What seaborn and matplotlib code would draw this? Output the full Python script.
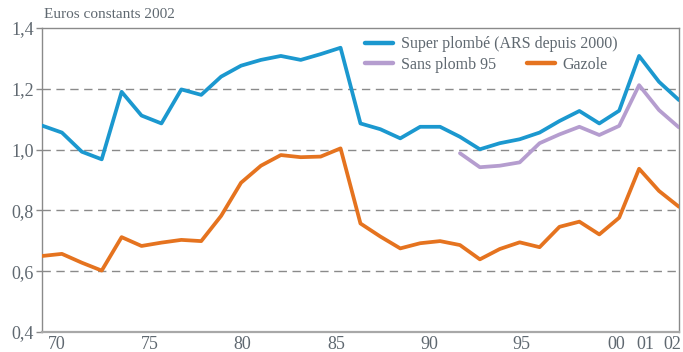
import numpy as np
import pandas as pd
import matplotlib
matplotlib.use("Agg")
import matplotlib.pyplot as plt
import seaborn as sns
from matplotlib.lines import Line2D
from matplotlib.legend import Legend

# Prix des carburants, euros constants 2002 (par litre)
years = list(range(1970, 2003))

super_plombe = [1.079, 1.056, 0.993, 0.968, 1.190, 1.112, 1.086, 1.198, 1.180, 1.240,
                1.276, 1.295, 1.308, 1.295, 1.314, 1.335, 1.086, 1.067, 1.037, 1.075,
                1.075, 1.042, 1.001, 1.021, 1.034, 1.056, 1.094, 1.127, 1.086, 1.128,
                1.308, 1.223, 1.163]

sans_plomb_years = list(range(1991, 2003))
sans_plomb_95 = [0.988, 0.942, 0.947, 0.958, 1.021, 1.050, 1.075, 1.048, 1.078,
                 1.212, 1.130, 1.073]

gazole = [0.650, 0.657, 0.628, 0.602, 0.712, 0.683, 0.694, 0.703, 0.699, 0.782,
          0.891, 0.947, 0.982, 0.975, 0.977, 1.004, 0.757, 0.714, 0.675, 0.692,
          0.699, 0.686, 0.639, 0.673, 0.695, 0.679, 0.746, 0.763, 0.721, 0.776,
          0.937, 0.864, 0.812]

series_names = ["Super plombé (ARS depuis 2000)", "Sans plomb 95", "Gazole"]
series_colors = ["#1b98cf", "#b59dcf", "#e5731f"]

y_ticks = [0.4, 0.6, 0.8, 1.0, 1.2, 1.4]
y_labels = ["0,4", "0,6", "0,8", "1,0", "1,2", "1,4"]
x_labels = ["70", "75", "80", "85", "90", "95", "00", "01", "02"]
x_label_pos = [1970.75, 1975.4, 1980.05, 1984.8, 1989.45, 1994.1, 1998.85, 2000.3, 2001.65]

df = pd.concat([
    pd.DataFrame({"annee": years, "prix": super_plombe, "carburant": series_names[0]}),
    pd.DataFrame({"annee": sans_plomb_years, "prix": sans_plomb_95, "carburant": series_names[1]}),
    pd.DataFrame({"annee": years, "prix": gazole, "carburant": series_names[2]}),
])

sns.set_style("white")
plt.rcParams["font.family"] = ["Liberation Serif", "DejaVu Serif"]
text_color = "#5f6870"

fig = plt.figure(figsize=(6.83, 3.52), dpi=100)
ax = fig.add_axes([0.0615, 0.0568, 0.9325, 0.8637])

sns.lineplot(data=df, x="annee", y="prix", hue="carburant",
             palette=dict(zip(series_names, series_colors)),
             hue_order=series_names, linewidth=2.7, ax=ax, legend=False,
             zorder=3)

ax.set_xlim(1970, 2002)
ax.set_ylim(0.4, 1.4)

for v in y_ticks[1:-1]:
    ax.axhline(v, color="#8a8a8a", linewidth=1.0, linestyle=(0, (6, 4)), zorder=1)

ax.set_yticks(y_ticks)
ax.set_yticklabels(y_labels)
ax.set_xticks(x_label_pos)
ax.set_xticklabels(x_labels)
ax.tick_params(axis="y", length=4, width=1, color="#8a8a8a", left=True,
               labelsize=13, labelcolor=text_color, pad=2)
ax.tick_params(axis="x", length=0, labelsize=13, labelcolor=text_color, pad=3)
ax.set_xlabel("")
ax.set_ylabel("")

for side in ["left", "top", "right"]:
    ax.spines[side].set_color("#8a8a8a")
    ax.spines[side].set_linewidth(1.0)
ax.spines["bottom"].set_color("#a8a8a8")
ax.spines["bottom"].set_linewidth(1.6)

fig.text(0.064, 0.958, "Euros constants 2002", fontsize=11, color=text_color,
         ha="left", va="center")

# Legend entries: one per series, laid out on two rows
handles = [Line2D([], [], color=c, linewidth=3.2) for c in series_colors]
entry_anchor = [(0.507, 0.947), (0.507, 0.878), (0.761, 0.878)]
for h, name, anchor in zip(handles, series_names, entry_anchor):
    leg = Legend(ax, [h], [name], loc="center left", bbox_to_anchor=anchor,
                 frameon=False, fontsize=11.5, handlelength=1.75,
                 handletextpad=0.5, borderaxespad=0, borderpad=0)
    for t in leg.get_texts():
        t.set_color(text_color)
    ax.add_artist(leg)

fig.savefig("out.png", dpi=100)
